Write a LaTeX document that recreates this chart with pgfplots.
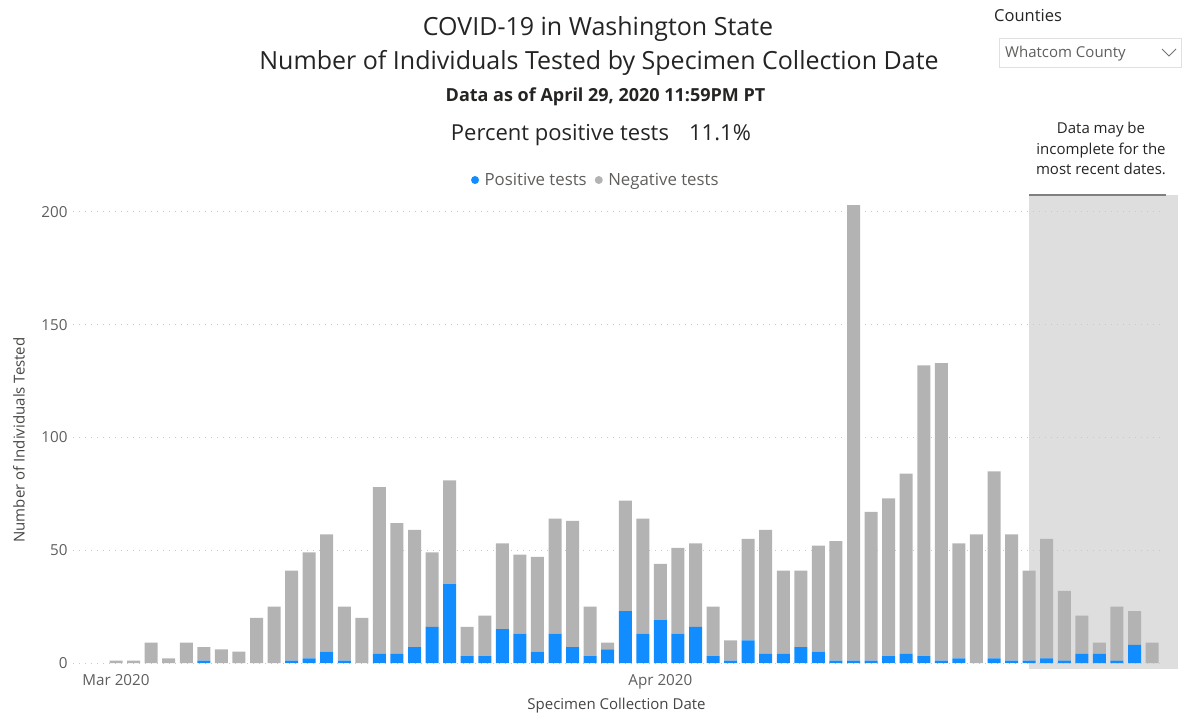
\documentclass[border=0pt]{standalone}
\usepackage{pgfplots}
\pgfplotsset{compat=1.18}
\usepackage{pgfplotstable}
\usepackage{fontspec}
\setmainfont{Open Sans}
\definecolor{pbblue}{HTML}{118DFF}
\definecolor{pbgray}{HTML}{B3B3B3}
\definecolor{shadec}{HTML}{DEDEDE}
\definecolor{txt}{HTML}{252423}
\definecolor{tickc}{HTML}{605E5C}
\definecolor{gridc}{HTML}{C8C8C8}

\pgfplotstableread{
d pos neg
1 0 1
2 0 1
3 0 9
4 0 2
5 0 9
6 1 6
7 0 6
8 0 5
9 0 20
10 0 25
11 1 40
12 2 47
13 5 52
14 1 24
15 0 20
16 4 74
17 4 58
18 7 52
19 16 33
20 35 46
21 3 13
22 3 18
23 15 38
24 13 35
25 5 42
26 13 51
27 7 56
28 3 22
29 6 3
30 23 49
31 13 51
32 19 25
33 13 38
34 16 37
35 3 22
36 1 9
37 10 45
38 4 55
39 4 37
40 7 34
41 5 47
42 1 53
43 1 202
44 1 66
45 3 70
46 4 80
47 3 129
48 1 132
49 2 51
50 0 57
51 2 83
52 1 56
53 1 40
54 2 53
55 1 31
56 4 17
57 4 5
58 1 24
59 8 15
60 0 9
}\data

\begin{document}
\begin{tikzpicture}[x=1pt,y=1pt]
\path[use as bounding box] (0,0) rectangle (1188,712);
% shaded "incomplete data" zone (drawn beneath the axis)
\fill[shadec] (1029,43) rectangle (1178,517);
\begin{axis}[
  at={(73pt,49pt)}, anchor=south west,
  scale only axis, width=1087pt, height=468pt,
  xmin=-1.45, xmax=60.45, ymin=0, ymax=207.5,
  ybar stacked, bar width=0.74,
  clip=false,
  axis line style={draw=none},
  major tick length=0pt,
  xtick={1,32}, xticklabels={Mar 2020, Apr 2020},
  ytick={0,50,100,150,200},
  ymajorgrids,
  grid style={color=gridc, line width=0.9pt, dash pattern=on 1pt off 5pt},
  /pgf/number format/assume math mode=true,
  yticklabel style={font=\fontsize{15.2}{17}\selectfont, text=tickc, xshift=-2pt},
  xticklabel style={font=\fontsize{15.2}{17}\selectfont, text=tickc, yshift=-8pt},
  xlabel={Specimen Collection Date},
  ylabel={Number of Individuals Tested},
  every axis x label/.style={at={(rel axis cs:0.5,0)}, anchor=center, yshift=-42.5pt, font=\fontsize{15}{17}\selectfont, text=txt!85},
  every axis y label/.style={at={(rel axis cs:0,0.5)}, anchor=center, xshift=-54pt, yshift=-11pt, rotate=90, font=\fontsize{15}{17}\selectfont, text=txt!85},
  legend style={at={(0.481,1.032)}, anchor=center, draw=none, fill=none,
    legend columns=2, font=\fontsize{16.8}{19}\selectfont, text=tickc,
    /tikz/every even column/.append style={column sep=6pt},
    legend cell align=left, inner sep=0pt},
]
\addplot[fill=pbblue, draw=none,
  legend image code/.code={\fill[pbblue] (0pt,0pt) circle (4pt); \path (7.5pt,0pt);}]
  table[x=d, y=pos] {\data};
\addlegendentry{Positive tests}
\addplot[fill=pbgray, draw=none,
  legend image code/.code={\fill[pbgray] (0pt,0pt) circle (4pt); \path (7.5pt,0pt);}]
  table[x=d, y=neg] {\data};
\addlegendentry{Negative tests}
\draw[color=black!50, line width=2pt] (axis cs:53.0,207.5) -- (axis cs:60.8,207.5);
\end{axis}

\node[font=\fontsize{25}{29}\selectfont, text=txt, anchor=base] at (598,676.3) {COVID-19 in Washington State};
\node[font=\fontsize{25}{29}\selectfont, text=txt, anchor=base] at (599,642) {Number of Individuals Tested by Specimen Collection Date};
\node[font=\bfseries\fontsize{18}{21}\selectfont, text=txt, anchor=base] at (605.5,610.5) {Data as of April 29, 2020 11:59PM PT};
\node[font=\fontsize{22}{25}\selectfont, text=txt, anchor=base] at (560,571.3) {Percent positive tests};
\node[font=\fontsize{22}{25}\selectfont, text=txt, anchor=base] at (720,571.3) {11.1\%};

\node[font=\fontsize{16.5}{19}\selectfont, text=txt, anchor=base west, inner sep=0pt] at (994,690) {Counties};
\draw[color=black!12, line width=0.8pt] (999,674) rectangle (1181,645);
\node[font=\fontsize{15}{17}\selectfont, text=tickc, anchor=base west, inner sep=0pt] at (1005,654) {Whatcom County};
\draw[color=black!55, line width=0.8pt] (1162,663) -- (1169,656) -- (1176,663);

\node[font=\fontsize{15}{17}\selectfont, text=txt, anchor=base] at (1101,578.7) {Data may be};
\node[font=\fontsize{15}{17}\selectfont, text=txt, anchor=base] at (1101,557.7) {incomplete for the};
\node[font=\fontsize{15}{17}\selectfont, text=txt, anchor=base] at (1101,537) {most recent dates.};
\end{tikzpicture}
\end{document}
